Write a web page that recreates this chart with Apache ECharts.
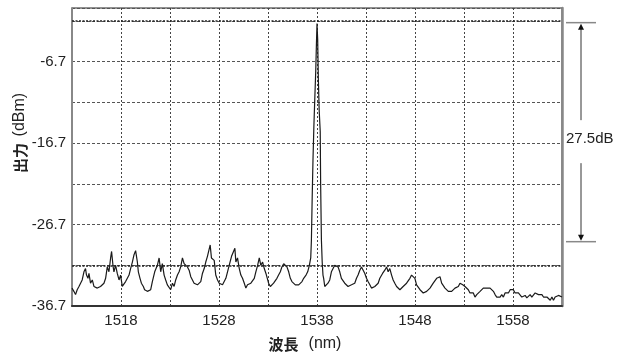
<!DOCTYPE html>
<html>
<head>
<meta charset="utf-8">
<script src="https://cdn.jsdelivr.net/npm/echarts@6/dist/echarts.min.js"></script>
<style>
  html, body { margin: 0; padding: 0; background: #fff; }
  #chart { width: 624px; height: 355px; }
</style>
</head>
<body>
<div id="chart"></div>
<script>
// wavelength (nm) and output power (dBm)
const wavelength = [
  1513.00, 1513.05, 1513.19, 1513.36, 1513.53, 1513.71, 1513.87, 1514.04, 1514.22, 1514.38,
  1514.48, 1514.63, 1514.73, 1514.89, 1515.07, 1515.24, 1515.40, 1515.58, 1515.75, 1515.91,
  1516.09, 1516.26, 1516.43, 1516.60, 1516.77, 1516.94, 1517.04, 1517.18, 1517.28, 1517.45,
  1517.62, 1517.80, 1517.96, 1518.13, 1518.31, 1518.47, 1518.64, 1518.82, 1518.98, 1519.16,
  1519.33, 1519.49, 1519.67, 1519.77, 1519.94, 1520.08, 1520.28, 1520.41, 1520.69, 1521.03,
  1521.20, 1521.44, 1521.71, 1521.89, 1522.05, 1522.22, 1522.40, 1522.56, 1522.73, 1522.91,
  1523.07, 1523.25, 1523.42, 1523.58, 1523.76, 1523.93, 1524.09, 1524.27, 1524.44, 1524.61,
  1524.78, 1524.95, 1525.12, 1525.29, 1525.46, 1525.63, 1525.80, 1525.98, 1526.14, 1526.31,
  1526.49, 1526.65, 1526.82, 1527.00, 1527.10, 1527.23, 1527.34, 1527.51, 1527.67, 1527.85,
  1528.02, 1528.18, 1528.36, 1528.53, 1528.70, 1528.87, 1529.04, 1529.28, 1529.48, 1529.62,
  1529.72, 1529.89, 1530.07, 1530.23, 1530.40, 1530.58, 1530.74, 1530.91, 1531.09, 1531.25,
  1531.43, 1531.60, 1531.76, 1531.94, 1532.11, 1532.27, 1532.45, 1532.62, 1532.79, 1532.96,
  1533.06, 1533.24, 1533.40, 1533.57, 1533.75, 1533.91, 1534.08, 1534.26, 1534.42, 1534.60,
  1534.77, 1534.93, 1535.11, 1535.28, 1535.44, 1535.62, 1535.79, 1535.96, 1536.13, 1536.30,
  1536.47, 1536.64, 1536.88, 1537.05, 1537.22,
  1537.36, 1537.43, 1537.51, 1537.59, 1537.68, 1537.77, 1537.87, 1537.94, 1538.00, 1538.07,
  1538.14, 1538.22, 1538.33, 1538.37, 1538.45, 1538.53, 1538.61,
  1538.68, 1538.79, 1538.96, 1539.12, 1539.30, 1539.47, 1539.64, 1539.81, 1539.98, 1540.15,
  1540.32, 1540.49, 1540.66, 1540.83, 1541.01, 1541.17, 1541.34, 1541.52, 1541.68, 1541.85,
  1542.03, 1542.19, 1542.37, 1542.54, 1542.70, 1542.88, 1543.05, 1543.21, 1543.39, 1543.56,
  1543.73, 1543.90, 1544.07, 1544.24,
  1544.41, 1544.69, 1544.92, 1545.10, 1545.26, 1545.43, 1545.61, 1545.77, 1545.94, 1546.12,
  1546.28, 1546.46, 1546.63, 1546.79, 1546.97, 1547.14, 1547.30, 1547.48, 1547.65, 1547.82,
  1547.99, 1548.16, 1548.33, 1548.51, 1548.68, 1548.84, 1549.01, 1549.19, 1549.35, 1549.53,
  1549.70, 1549.86, 1550.03, 1550.21, 1550.37, 1550.55, 1550.72, 1550.88, 1551.06, 1551.23,
  1551.40, 1551.57, 1551.74, 1551.91, 1552.08, 1552.25, 1552.42,
  1552.59, 1552.87, 1553.10, 1553.28, 1553.44, 1553.61, 1553.79, 1553.95, 1554.12, 1554.30,
  1554.46, 1554.64, 1554.81, 1554.97, 1555.15, 1555.32, 1555.48, 1555.66, 1555.83, 1556.00,
  1556.17, 1556.34, 1556.51, 1556.68, 1556.85, 1557.02, 1557.19, 1557.37, 1557.53, 1557.71,
  1557.88, 1558.04, 1558.21, 1558.39, 1558.55, 1558.73, 1558.90, 1559.06, 1559.24, 1559.41,
  1559.57, 1559.75, 1559.92, 1560.09, 1560.26, 1560.44, 1560.60, 1560.77, 1560.95, 1561.11,
  1561.28, 1561.46, 1561.62, 1561.80, 1561.97, 1562.13, 1562.30, 1562.48, 1562.64, 1562.81,
  1563.00
];

const power = [
  -34.5, -34.3, -34.9, -35.3, -34.7, -34.3, -34.1, -33.5, -32.5, -32.1,
  -32.9, -33.3, -32.7, -33.9, -33.5, -34.3, -34.1, -34.5, -34.7, -34.3,
  -34.5, -33.9, -33.3, -31.9, -32.5, -30.8, -30.0, -31.7, -32.5, -31.7,
  -32.7, -33.5, -32.9, -34.3, -34.5, -33.7, -33.5, -32.9, -32.1, -31.3,
  -30.4, -29.9, -31.3, -32.5, -33.3, -33.9, -34.3, -34.7, -34.9, -34.7,
  -33.7, -32.5, -31.7, -30.8, -32.5, -31.5, -32.9, -33.5, -34.1, -33.9,
  -34.7, -33.9, -34.3, -33.5, -32.9, -32.5, -31.9, -30.8, -31.5, -31.7,
  -31.9, -32.3, -33.1, -33.5, -33.9, -33.7, -34.1, -34.1, -33.7, -32.7,
  -32.1, -31.3, -30.6, -30.8, -29.2, -30.8, -30.6, -31.1, -32.9, -33.5,
  -33.9, -33.7, -34.1, -33.9, -33.3, -32.5, -31.7, -30.6, -30.8, -29.6,
  -31.3, -30.8, -32.1, -32.9, -33.3, -33.9, -34.5, -34.1, -34.3, -33.9,
  -33.7, -33.3, -32.5, -31.7, -30.8, -31.7, -31.3, -32.1, -32.7, -32.9,
  -33.9, -34.3, -34.1, -33.9, -33.7, -33.3, -32.9, -32.5, -31.9, -31.5,
  -31.7, -31.9, -32.5, -33.3, -33.7, -33.9, -34.1, -34.3, -34.1, -33.9,
  -33.7, -33.3, -32.9, -32.5, -31.7,
  -30.8, -28.6, -23.3, -18.8, -14.7, -11.4, -7.9, -4.6, -2.0, -4.0,
  -8.9, -12.6, -15.3, -21.6, -28.6, -31.3, -32.9,
  -33.3, -34.3, -34.5, -33.9, -33.5, -32.5, -32.1, -31.7, -31.5, -31.9,
  -32.5, -33.3, -33.5, -33.9, -34.1, -34.3, -34.5, -34.1, -34.3, -33.9,
  -33.3, -32.9, -32.3, -31.9, -32.1, -32.7, -33.3, -33.7, -34.1, -34.5,
  -34.7, -34.3, -34.1, -33.9,
  -33.3, -32.7, -32.3, -31.9, -32.5, -32.1, -32.9, -33.5, -33.9, -34.3,
  -34.5, -34.7, -34.5, -34.3, -34.3, -33.9, -33.7, -33.3, -32.9, -33.1,
  -33.3, -34.1, -34.3, -34.7, -34.9, -35.1, -34.9, -34.9, -34.7, -34.5,
  -34.3, -33.9, -33.7, -33.3, -33.5, -33.1, -33.9, -34.1, -34.5, -34.7,
  -34.9, -35.1, -34.9, -34.7, -34.5, -34.5, -34.3,
  -33.9, -34.1, -34.3, -34.1, -34.7, -35.1, -35.3, -35.1, -35.6, -35.3,
  -35.1, -34.9, -34.7, -34.5, -34.3, -34.5, -34.3, -34.5, -34.7, -34.9,
  -35.3, -35.6, -35.8, -35.6, -35.3, -35.6, -35.1, -34.9, -35.1, -34.7,
  -34.5, -34.7, -35.1, -35.3, -35.1, -35.3, -35.6, -35.6, -35.4, -35.7,
  -35.6, -35.3, -35.6, -35.4, -35.1, -34.9, -35.3, -35.1, -35.3, -35.6,
  -35.8, -35.6, -35.8, -36.0, -35.6, -36.0, -35.6, -35.8, -35.4, -35.3,
  -35.6
];

// axis ranges and labels
const xMin = 1513, xMax = 1563, xStep = 5;
const xLabels = [1518, 1528, 1538, 1548, 1558];
const yMin = -36.7, yMax = -0.1, yStep = 5;
const yLabels = [-36.7, -26.7, -16.7, -6.7];

// reference levels (dotted) and the 27.5dB span marker
const refLevels = [-1.7, -31.7];
const spanTop = -1.9, spanBottom = -28.8;
const spanText = '27.5dB';

const textFont = "'Liberation Sans', Arial, sans-serif";
const cjkFont = "'Noto Sans CJK JP', 'Noto Sans CJK SC', sans-serif";

const traceData = wavelength.map((w, i) => [w, power[i]]);

const chart = echarts.init(document.getElementById('chart'));

const option = {
  animation: false,
  grid: {
    left: 72,
    right: 62,
    top: 8,
    bottom: 49,
    show: true,
    borderColor: '#222',
    borderWidth: 1,
  },
  xAxis: {
    type: 'value',
    min: xMin,
    max: xMax,
    interval: xStep,
    axisLine: { show: true, lineStyle: { color: '#333', width: 2 } },
    axisTick: { show: false },
    axisLabel: {
      margin: 7,
      color: '#222',
      fontSize: 15,
      fontFamily: textFont,
      showMinLabel: true,
      showMaxLabel: true,
      formatter: (v) => {
        const r = Math.round(v)
        return xLabels.includes(r) ? String(r) : ''
      },
    },
    splitLine: {
      show: true,
      lineStyle: { color: '#444', type: [2, 2], width: 1 },
    },
  },
  yAxis: [
    {
      type: 'value',
      min: yMin,
      max: yMax,
      interval: yStep,
      axisLine: { show: true, lineStyle: { color: '#888', width: 2 } },
      axisTick: { show: false },
      axisLabel: {
        margin: 6,
        color: '#222',
        fontSize: 15,
        fontFamily: textFont,
        showMinLabel: true,
        showMaxLabel: true,
        formatter: (v) => {
          const r = Math.round(v * 10) / 10
          return yLabels.includes(r) ? r.toFixed(1) : ''
        },
      },
      splitLine: {
        show: true,
        lineStyle: { color: '#555', type: [3, 2], width: 1 },
      },
    },
    {
      type: 'value',
      position: 'right',
      min: yMin,
      max: yMax,
      axisLine: { show: true, onZero: false, lineStyle: { color: '#888', width: 2.5 } },
      axisTick: { show: false },
      axisLabel: { show: false },
      splitLine: { show: false },
    },
  ],
  series: [
    {
      type: 'line',
      data: traceData,
      symbol: 'none',
      lineStyle: { color: '#1a1a1a', width: 1.2 },
      markLine: {
        silent: true,
        symbol: 'none',
        label: { show: false },
        lineStyle: { color: '#222', type: [2, 1.5], width: 1.6 },
        data: refLevels.map((v) => ({ yAxis: v })),
      },
    },
  ],
}

chart.setOption(option)

// annotation outside the plot, placed from the axis scale
const yTop = chart.convertToPixel({ yAxisIndex: 0 }, spanTop)
const yBot = chart.convertToPixel({ yAxisIndex: 0 }, spanBottom)
const arrowX = 581
const textY = (yTop + yBot) / 2 + 7

chart.setOption({
  graphic: [
    { type: 'line', shape: { x1: 566, y1: yTop, x2: 596, y2: yTop }, style: { stroke: '#888', lineWidth: 1.5 } },
    { type: 'line', shape: { x1: 566, y1: yBot, x2: 596, y2: yBot }, style: { stroke: '#888', lineWidth: 1.5 } },
    { type: 'line', shape: { x1: arrowX, y1: yTop + 4, x2: arrowX, y2: textY - 19 }, style: { stroke: '#333', lineWidth: 1 } },
    { type: 'line', shape: { x1: arrowX, y1: textY + 24, x2: arrowX, y2: yBot - 4 }, style: { stroke: '#333', lineWidth: 1 } },
    { type: 'polygon', shape: { points: [[arrowX, yTop + 1], [arrowX - 3, yTop + 7], [arrowX + 3, yTop + 7]] }, style: { fill: '#111' } },
    { type: 'polygon', shape: { points: [[arrowX, yBot - 1], [arrowX - 3, yBot - 7], [arrowX + 3, yBot - 7]] }, style: { fill: '#111' } },
    {
      type: 'text',
      x: 566,
      y: textY,
      style: { text: spanText, fill: '#222', font: `15px ${textFont}`, textAlign: 'left', textVerticalAlign: 'middle' },
    },
    {
      type: 'text',
      x: 20,
      y: 133,
      rotation: Math.PI / 2,
      style: {
        text: '{b|出力}  {n|(dBm)}',
        textAlign: 'center',
        textVerticalAlign: 'middle',
        rich: {
          b: { fontFamily: cjkFont, fontWeight: 'bold', fontSize: 15, fill: '#222' },
          n: { fontFamily: textFont, fontSize: 16, fill: '#222' },
        },
      },
    },
    {
      type: 'text',
      x: 305,
      y: 344,
      style: {
        text: '{b|波長}   {n|(nm)}',
        textAlign: 'center',
        textVerticalAlign: 'middle',
        rich: {
          b: { fontFamily: cjkFont, fontWeight: 'bold', fontSize: 15, fill: '#222' },
          n: { fontFamily: textFont, fontSize: 16, fill: '#222' },
        },
      },
    },
  ],
})
</script>
</body>
</html>
